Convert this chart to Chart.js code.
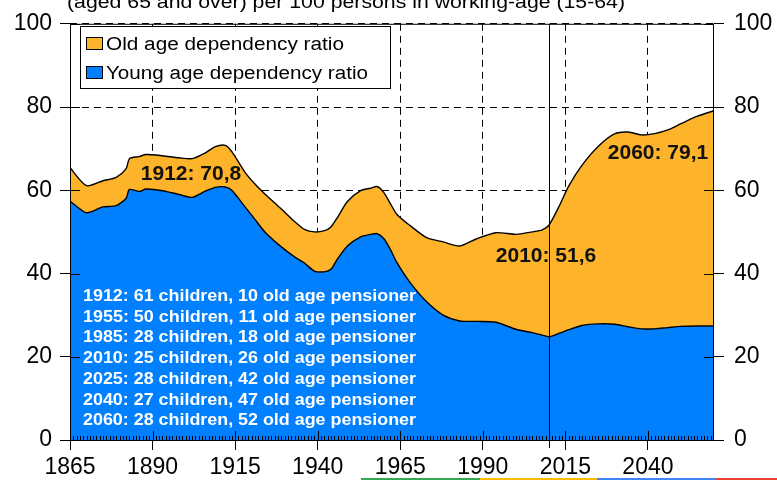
<!DOCTYPE html>
<html>
<head>
<meta charset="utf-8">
<script src="https://cdn.jsdelivr.net/npm/chart.js@4/dist/chart.umd.min.js"></script>
<style>
  body { margin: 0; background: #fff; }
  canvas { display: block; }
</style>
</head>
<body>
<canvas id="depChart" width="777" height="480"></canvas>
<script>
// dependency ratios (per 100 persons aged 15-64)
const years = [1865, 1870, 1875, 1879, 1882, 1883, 1886, 1888, 1893, 1898, 1902, 1906, 1909, 1912, 1914,
  1918, 1921, 1924, 1929, 1933, 1936, 1939, 1942, 1944, 1946, 1949, 1953, 1956, 1958, 1960, 1962, 1964,
  1968, 1973, 1978, 1983, 1988, 1994, 2000, 2005, 2008, 2010, 2013, 2016, 2020, 2025, 2030, 2034, 2038,
  2042, 2046, 2050, 2055, 2060];
const totalRatio = [65.4, 61.1, 62.3, 63.1, 65.2, 67.6, 68.1, 68.6, 68.3, 67.8, 67.6, 69.0, 70.5, 70.8, 69.3,
  64.3, 61.5, 59.1, 55.5, 52.5, 50.6, 50.0, 50.3, 51.2, 53.5, 57.3, 59.9, 60.5, 60.9, 59.5, 56.8, 54.2,
  51.5, 48.6, 47.6, 46.6, 48.3, 49.8, 49.4, 50.0, 50.5, 51.6, 56.0, 61.0, 66.0, 70.6, 73.6, 74.0, 73.3,
  73.6, 74.5, 76.0, 77.8, 79.1];
const youngRatio = [57.4, 54.6, 56.0, 56.3, 58.1, 60.2, 59.7, 60.3, 59.9, 59.0, 58.3, 59.8, 60.7, 60.8, 60.0,
  56.0, 53.0, 50.0, 46.4, 44.0, 42.5, 40.6, 40.4, 41.0, 43.5, 46.6, 48.8, 49.4, 49.6, 48.4, 45.8, 42.6,
  37.8, 33.2, 30.0, 28.6, 28.5, 28.3, 26.6, 25.8, 25.2, 24.8, 25.6, 26.5, 27.5, 27.9, 27.8, 27.2, 26.7,
  26.7, 27.0, 27.3, 27.4, 27.4];
const oldRatio = totalRatio.map((t, i) => +(t - youngRatio[i]).toFixed(1));

const xTicks = [1865, 1890, 1915, 1940, 1965, 1990, 2015, 2040];
const yTicks = [0, 20, 40, 60, 80, 100];
const markYear = 2010;

const titleText = '(aged 65 and over) per 100 persons in working-age (15-64)';
const legendLabels = ['Old age dependency ratio', 'Young age dependency ratio'];
const callouts = [
  { year: 1912, value: 70.8, text: '1912: 70,8' },
  { year: 2010, value: 51.6, text: '2010: 51,6' },
  { year: 2060, value: 79.1, text: '2060: 79,1' }
];
const infoLines = [
  '1912: 61 children, 10 old age pensioner',
  '1955: 50 children, 11 old age pensioner',
  '1985: 28 children, 18 old age pensioner',
  '2010: 25 children, 26 old age pensioner',
  '2025: 28 children, 42 old age pensioner',
  '2040: 27 children, 47 old age pensioner',
  '2060: 28 children, 52 old age pensioner'
];

const ORANGE = '#FDB42B';
const BLUE = '#0080FF';
const FONT = '"Liberation Sans", Arial, sans-serif';

function fitText(ctx, text, x, y, width) {
  const w = ctx.measureText(text).width;
  ctx.save();
  ctx.translate(x, y);
  ctx.scale(width / w, 1);
  ctx.fillText(text, 0, 0);
  ctx.restore();
}

const decorations = {
  id: 'decorations',
  beforeDraw(chart) {
    const ctx = chart.ctx;
    ctx.save();
    ctx.fillStyle = '#000';
    ctx.font = '18px ' + FONT;
    ctx.textBaseline = 'alphabetic';
    fitText(ctx, titleText, 67, 8, 558);
    // strip along the bottom edge
    const strip = [['#34A853', 361, 480], ['#FBBC05', 480, 597], ['#4285F4', 597, 715], ['#EA4335', 715, 777]];
    strip.forEach(s => { ctx.fillStyle = s[0]; ctx.fillRect(s[1], 478, s[2] - s[1], 2); });
    ctx.restore();
  },
  afterDatasetsDraw(chart) {
    const { ctx, chartArea: a, scales: { x, y } } = chart;
    ctx.save();
    ctx.strokeStyle = '#000';
    ctx.lineWidth = 1;
    ctx.beginPath();
    // frame
    ctx.moveTo(a.left, a.top + 0.5); ctx.lineTo(a.right, a.top + 0.5);
    ctx.moveTo(a.left + 0.5, a.top); ctx.lineTo(a.left + 0.5, a.bottom);
    ctx.moveTo(a.right - 0.5, a.top); ctx.lineTo(a.right - 0.5, a.bottom);
    ctx.moveTo(a.left, a.bottom + 0.5); ctx.lineTo(a.right, a.bottom + 0.5);
    // inner ticks
    yTicks.forEach(v => {
      const py = Math.round(y.getPixelForValue(v)) + 0.5;
      ctx.moveTo(a.left, py); ctx.lineTo(a.left + 10, py);
      ctx.moveTo(a.right - 10, py); ctx.lineTo(a.right, py);
    });
    xTicks.forEach(v => {
      const px = Math.round(x.getPixelForValue(v)) + 0.5;
      ctx.moveTo(px, a.bottom - 9); ctx.lineTo(px, a.bottom);
    });
    for (let yr = 1866; yr < 2060; yr++) {
      const px = Math.round(x.getPixelForValue(yr)) + 0.5;
      ctx.moveTo(px, a.bottom - 4); ctx.lineTo(px, a.bottom);
    }
    // 2010 marker
    const mx = Math.round(x.getPixelForValue(markYear)) + 0.5;
    ctx.moveTo(mx, a.top); ctx.lineTo(mx, a.bottom + 8);
    ctx.stroke();

    // legend box
    ctx.fillStyle = '#fff';
    ctx.fillRect(80.5, 26.5, 310, 62);
    ctx.strokeRect(80.5, 26.5, 310, 62);
    [[ORANGE, 37, 49, 238], [BLUE, 66, 78, 262]].forEach((r, i) => {
      ctx.fillStyle = r[0];
      ctx.fillRect(86.5, r[1] + 0.5, 16, 12);
      ctx.strokeRect(86.5, r[1] + 0.5, 16, 12);
      ctx.fillStyle = '#000';
      ctx.font = '18px ' + FONT;
      fitText(ctx, legendLabels[i], 106, r[2] + 0.5, r[3]);
    });

    // callouts
    ctx.fillStyle = '#111';
    ctx.font = 'bold 21px ' + FONT;
    ctx.textAlign = 'center';
    ctx.fillText(callouts[0].text, 191, 180);
    ctx.fillText(callouts[1].text, 546, 262);
    ctx.fillText(callouts[2].text, 658, 159);

    // info lines on the blue area
    ctx.textAlign = 'left';
    ctx.fillStyle = '#fff';
    ctx.font = 'bold 16px ' + FONT;
    infoLines.forEach((t, i) => fitText(ctx, t, 83, 301 + i * 20.7, 333));
    ctx.restore();
  }
};

const tickFont = { family: FONT, size: 23 };

const ctx = document.getElementById('depChart').getContext('2d');
new Chart(ctx, {
  type: 'line',
  data: {
    datasets: [
      {
        label: legendLabels[1],
        data: years.map((yr, i) => ({ x: yr, y: youngRatio[i] })),
        backgroundColor: BLUE,
        borderColor: '#000',
        borderWidth: 1.4,
        fill: 'origin',
        pointRadius: 0,
        tension: 0.25
      },
      {
        label: legendLabels[0],
        data: years.map((yr, i) => ({ x: yr, y: oldRatio[i] })),
        backgroundColor: ORANGE,
        borderColor: '#000',
        borderWidth: 1.4,
        fill: '-1',
        pointRadius: 0,
        tension: 0.25
      }
    ]
  },
  options: {
    responsive: false,
    animation: false,
    layout: { padding: { top: 20 } },
    plugins: { legend: { display: false }, tooltip: { enabled: false } },
    scales: {
      x: {
        type: 'linear',
        min: 1865,
        max: 2060,
        afterBuildTicks: s => { s.ticks = xTicks.map(v => ({ value: v })); },
        afterFit: s => { s.height = 40; },
        ticks: { color: '#000', font: tickFont, padding: 4, maxRotation: 0, callback: v => String(v) },
        grid: { color: '#000', lineWidth: 1, tickLength: 10, tickColor: '#000', tickBorderDash: [] },
        border: { display: false, dash: [7, 5] }
      },
      y: {
        stacked: true,
        min: 0,
        max: 100,
        afterBuildTicks: s => { s.ticks = yTicks.map(v => ({ value: v })); },
        afterFit: s => { s.width = 70; },
        ticks: { color: '#000', font: tickFont, padding: 8 },
        grid: { color: '#000', lineWidth: 1, tickLength: 10, tickColor: '#000', tickBorderDash: [] },
        border: { display: false, dash: [7, 5] }
      },
      y2: {
        position: 'right',
        min: 0,
        max: 100,
        afterBuildTicks: s => { s.ticks = yTicks.map(v => ({ value: v })); },
        afterFit: s => { s.width = 63; },
        ticks: { color: '#000', font: tickFont, padding: 10 },
        grid: { drawOnChartArea: false, tickLength: 10, tickColor: '#000' },
        border: { display: false }
      }
    }
  },
  plugins: [decorations]
});
</script>
</body>
</html>
